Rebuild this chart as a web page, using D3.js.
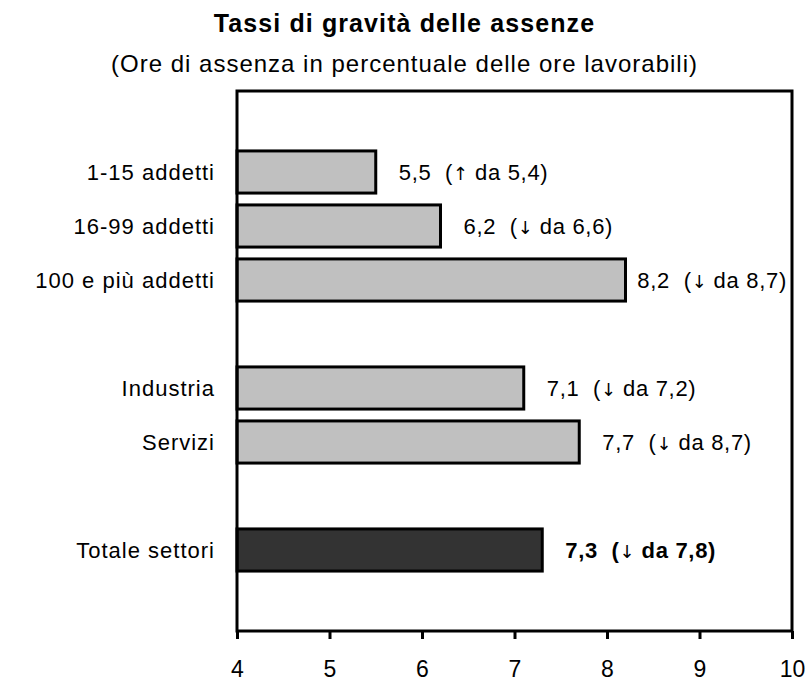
<!DOCTYPE html>
<html>
<head>
<meta charset="utf-8">
<script src="https://cdn.jsdelivr.net/npm/d3@7"></script>
<style>
  body { margin: 0; background: #fff; }
  svg { display: block; font-family: Arial, "Liberation Sans", sans-serif; }
</style>
</head>
<body>
<div id="viz"></div>
<script>
// chart data
const categories = ['1-15 addetti', '16-99 addetti', '100 e più addetti', 'Industria', 'Servizi', 'Totale settori'];
const rates = [5.5, 6.2, 8.2, 7.1, 7.7, 7.3];
const previousRates = [5.4, 6.6, 8.7, 7.2, 8.7, 7.8];
const totalCategory = 'Totale settori';
const xTicks = [4, 5, 6, 7, 8, 9, 10];

// rows of the chart, empty ones are spacers between the groups
const rows = ['_a', '1-15 addetti', '16-99 addetti', '100 e più addetti', '_b', 'Industria', 'Servizi', '_c', 'Totale settori', '_d'];

const titleText = 'Tassi di gravità delle assenze';
const subtitleText = '(Ore di assenza in percentuale delle ore lavorabili)';

const width = 809;
const height = 693;
const margin = { top: 91, right: 17, bottom: 62, left: 237 };
const innerW = width - margin.left - margin.right;
const innerH = height - margin.top - margin.bottom;

const itLocale = d3.formatLocale({ decimal: ',', thousands: '.', grouping: [3], currency: ['€', ''] });
const fmt = itLocale.format('.1f');

const svg = d3.select('#viz')
  .append('svg')
  .attr('width', width)
  .attr('height', height);

// titles
svg.append('text')
  .attr('x', width / 2)
  .attr('y', 32)
  .attr('text-anchor', 'middle')
  .style('font-size', '25px')
  .style('font-weight', 'bold')
  .style('letter-spacing', '1.1px')
  .text(titleText);

svg.append('text')
  .attr('x', width / 2)
  .attr('y', 72)
  .attr('text-anchor', 'middle')
  .style('font-size', '24px')
  .style('letter-spacing', '1px')
  .text(subtitleText);

const g = svg.append('g').attr('transform', `translate(${margin.left},${margin.top})`);

const x = d3.scaleLinear().domain([4, 10]).range([0, innerW]);
const y = d3.scaleBand().domain(rows).range([0, innerH]).paddingInner(0.22).paddingOuter(0.11);

const data = categories.map((c, i) => ({
  cat: c,
  value: rates[i],
  prev: previousRates[i],
}));

// bars
g.selectAll('rect.bar')
  .data(data)
  .enter()
  .append('rect')
  .attr('class', 'bar')
  .attr('x', x(4))
  .attr('y', (d) => y(d.cat))
  .attr('width', (d) => x(d.value) - x(4))
  .attr('height', y.bandwidth())
  .attr('fill', (d) => (d.cat === totalCategory ? '#333333' : '#c0c0c0'))
  .attr('stroke', '#000')
  .attr('stroke-width', 3);

// category labels
g.selectAll('text.cat')
  .data(data)
  .enter()
  .append('text')
  .attr('class', 'cat')
  .attr('x', -22)
  .attr('y', (d) => y(d.cat) + y.bandwidth() / 2)
  .attr('dy', '0.35em')
  .attr('text-anchor', 'end')
  .attr('fill', '#000')
  .style('font-size', '22px')
  .style('letter-spacing', '1px')
  .text((d) => d.cat);

// value labels: "7,1  (↓ da 7,2)"
const valueLabels = g.selectAll('text.val')
  .data(data)
  .enter()
  .append('text')
  .attr('class', 'val')
  .attr('y', (d) => y(d.cat) + y.bandwidth() / 2)
  .attr('dy', '0.35em')
  .attr('fill', '#000')
  .style('font-size', '22px')
  .style('letter-spacing', '0.7px')
  .style('white-space', 'pre')
  .style('font-weight', (d) => (d.cat === totalCategory ? 'bold' : 'normal'));

valueLabels.append('tspan').text((d) => `${fmt(d.value)}  (`);
valueLabels.append('tspan')
  .style('font-family', '"DejaVu Sans"')
  .style('font-weight', 'normal')
  .style('font-size', '18px')
  .style('letter-spacing', '0px')
  .attr('fill', '#000')
  .text((d) => (d.value > d.prev ? '↑' : '↓'));
valueLabels.append('tspan').text((d) => ` da ${fmt(d.prev)})`);

valueLabels.attr('x', function (d) {
  const w = this.getComputedTextLength();
  return Math.min(x(d.value) + 23, innerW - 5 - w);
});

// frame
g.append('rect')
  .attr('x', 0)
  .attr('y', 0)
  .attr('width', innerW)
  .attr('height', innerH)
  .attr('fill', 'none')
  .attr('stroke', '#000')
  .attr('stroke-width', 3);

// bottom axis
const xAxis = g.append('g')
  .attr('transform', `translate(0,${innerH})`)
  .call(d3.axisBottom(x).tickValues(xTicks).tickSize(8).tickSizeOuter(0).tickFormat((d) => d));

xAxis.select('.domain').remove();
xAxis.selectAll('.tick line').attr('stroke', '#000').attr('stroke-width', 3);
xAxis.selectAll('.tick text')
  .attr('y', 30)
  .attr('dy', '0.71em')
  .attr('fill', '#000')
  .style('font-family', 'Arial, "Liberation Sans", sans-serif')
  .style('font-size', '23px');
</script>
</body>
</html>
